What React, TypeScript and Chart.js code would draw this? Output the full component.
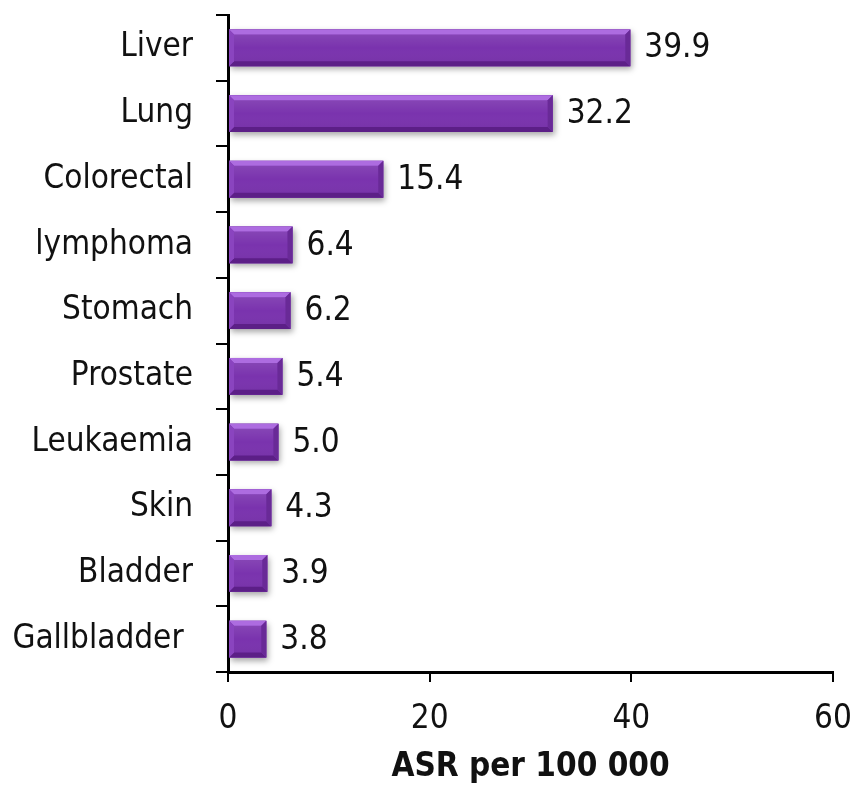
import React, { useEffect, useRef } from "react";
import { Chart, registerables } from "chart.js";

Chart.register(...registerables);

const categories = [
  "Liver",
  "Lung",
  "Colorectal",
  "lymphoma",
  "Stomach",
  "Prostate",
  "Leukaemia",
  "Skin",
  "Bladder",
  "Gallbladder ",
];
const asrValues = [39.9, 32.2, 15.4, 6.4, 6.2, 5.4, 5.0, 4.3, 3.9, 3.8];
const xTickValues = [0, 20, 40, 60];
const axisTitle = "ASR per 100 000";

const FONT = '"DejaVu Sans Condensed", "DejaVu Sans", sans-serif';
const TEXT = "#111111";
const BAR = "#7a33ae";

function barRects(chart: any) {
  const meta = chart.getDatasetMeta(0);
  return meta.data.map((el: any) => {
    const p = el.getProps(["x", "y", "base", "height"], true);
    const x0 = Math.min(p.base, p.x);
    const x1 = Math.max(p.base, p.x);
    const y0 = p.y - p.height / 2;
    const y1 = p.y + p.height / 2;
    return { x0, x1, y0, y1, cy: p.y };
  });
}

const bevelPlugin = {
  id: "bevel",
  beforeDatasetsDraw(chart: any) {
    const ctx = chart.ctx;
    ctx.save();
    for (const r of barRects(chart)) {
      ctx.shadowColor = "rgba(0,0,0,0.35)";
      ctx.shadowBlur = 6;
      ctx.shadowOffsetX = 2;
      ctx.shadowOffsetY = 3;
      ctx.fillStyle = BAR;
      ctx.fillRect(r.x0, r.y0, r.x1 - r.x0, r.y1 - r.y0);
    }
    ctx.restore();
  },
  afterDatasetsDraw(chart: any) {
    const ctx = chart.ctx;
    const b = 5;
    ctx.save();
    for (const r of barRects(chart)) {
      const { x0, x1, y0, y1 } = r;
      const g = ctx.createLinearGradient(0, y0, 0, y1);
      g.addColorStop(0, "rgba(255,255,255,0.12)");
      g.addColorStop(0.5, "rgba(255,255,255,0.0)");
      g.addColorStop(1, "rgba(0,0,0,0.06)");
      ctx.fillStyle = g;
      ctx.fillRect(x0 + b, y0 + b, x1 - x0 - 2 * b, y1 - y0 - 2 * b);
      ctx.fillStyle = "#ad6ce0";
      ctx.beginPath();
      ctx.moveTo(x0, y0);
      ctx.lineTo(x1, y0);
      ctx.lineTo(x1 - b, y0 + b);
      ctx.lineTo(x0 + b, y0 + b);
      ctx.closePath();
      ctx.fill();
      ctx.fillStyle = "#5c1f87";
      ctx.beginPath();
      ctx.moveTo(x0, y1);
      ctx.lineTo(x1, y1);
      ctx.lineTo(x1 - b, y1 - b);
      ctx.lineTo(x0 + b, y1 - b);
      ctx.closePath();
      ctx.fill();
      ctx.fillStyle = "#692a97";
      ctx.beginPath();
      ctx.moveTo(x1, y0);
      ctx.lineTo(x1, y1);
      ctx.lineTo(x1 - b, y1 - b);
      ctx.lineTo(x1 - b, y0 + b);
      ctx.closePath();
      ctx.fill();
      ctx.fillStyle = "#8a44bf";
      ctx.beginPath();
      ctx.moveTo(x0, y0);
      ctx.lineTo(x0, y1);
      ctx.lineTo(x0 + b, y1 - b);
      ctx.lineTo(x0 + b, y0 + b);
      ctx.closePath();
      ctx.fill();
    }
    ctx.restore();
  },
};

const valueLabelPlugin = {
  id: "valueLabels",
  afterDatasetsDraw(chart: any) {
    const ctx = chart.ctx;
    const values = chart.data.datasets[0].data as number[];
    ctx.save();
    ctx.font = `33px ${FONT}`;
    ctx.fillStyle = TEXT;
    ctx.textAlign = "left";
    ctx.textBaseline = "middle";
    barRects(chart).forEach((r: any, i: number) => {
      ctx.fillText(values[i].toFixed(1), r.x1 + 14, r.cy + 1);
    });
    ctx.restore();
  },
};

export default function App() {
  const canvasRef = useRef<HTMLCanvasElement | null>(null);

  useEffect(() => {
    document.body.style.margin = "0";
    const canvas = canvasRef.current;
    if (!canvas) return;
    const chart = new Chart(canvas, {
      type: "bar",
      data: {
        labels: categories,
        datasets: [
          {
            data: asrValues,
            backgroundColor: BAR,
            borderWidth: 0,
            barPercentage: 0.56,
            categoryPercentage: 1,
          },
        ],
      },
      options: {
        indexAxis: "y",
        responsive: false,
        animation: false,
        layout: { padding: { top: 15, right: 21, left: 0, bottom: 0 } },
        plugins: {
          legend: { display: false },
          tooltip: { enabled: false },
        },
        scales: {
          x: {
            type: "linear",
            min: 0,
            max: 60,
            afterBuildTicks: (scale: any) => {
              scale.ticks = xTickValues.map((v) => ({ value: v }));
            },
            afterFit: (scale: any) => {
              scale.height = 115;
              scale.paddingLeft = 0;
              scale.paddingRight = 0;
            },
            ticks: {
              font: { family: FONT, size: 33 },
              color: TEXT,
              padding: 18,
              maxRotation: 0,
            },
            grid: {
              drawOnChartArea: false,
              drawTicks: true,
              tickLength: 10,
              color: "#000",
              lineWidth: 2,
            },
            border: { display: true, color: "#000", width: 3 },
            title: {
              display: true,
              text: axisTitle,
              font: { family: FONT, size: 33, weight: "bold" },
              color: TEXT,
              padding: { top: 0, bottom: 0 },
            },
          },
          y: {
            type: "category",
            afterFit: (scale: any) => {
              scale.width = 228;
              scale.paddingTop = 0;
              scale.paddingBottom = 0;
            },
            ticks: {
              font: { family: FONT, size: 33 },
              color: TEXT,
              padding: 23,
            },
            grid: {
              drawOnChartArea: false,
              drawTicks: true,
              tickLength: 12,
              color: "#000",
              lineWidth: 2,
              offset: true,
            },
            border: { display: true, color: "#000", width: 3 },
          },
        },
      },
      plugins: [bevelPlugin, valueLabelPlugin],
    });
    return () => chart.destroy();
  }, []);

  return (
    <div style={{ position: "absolute", left: 0, top: 0, width: 854, height: 787, background: "#fff" }}>
      <canvas ref={canvasRef} width={854} height={787} />
    </div>
  );
}
